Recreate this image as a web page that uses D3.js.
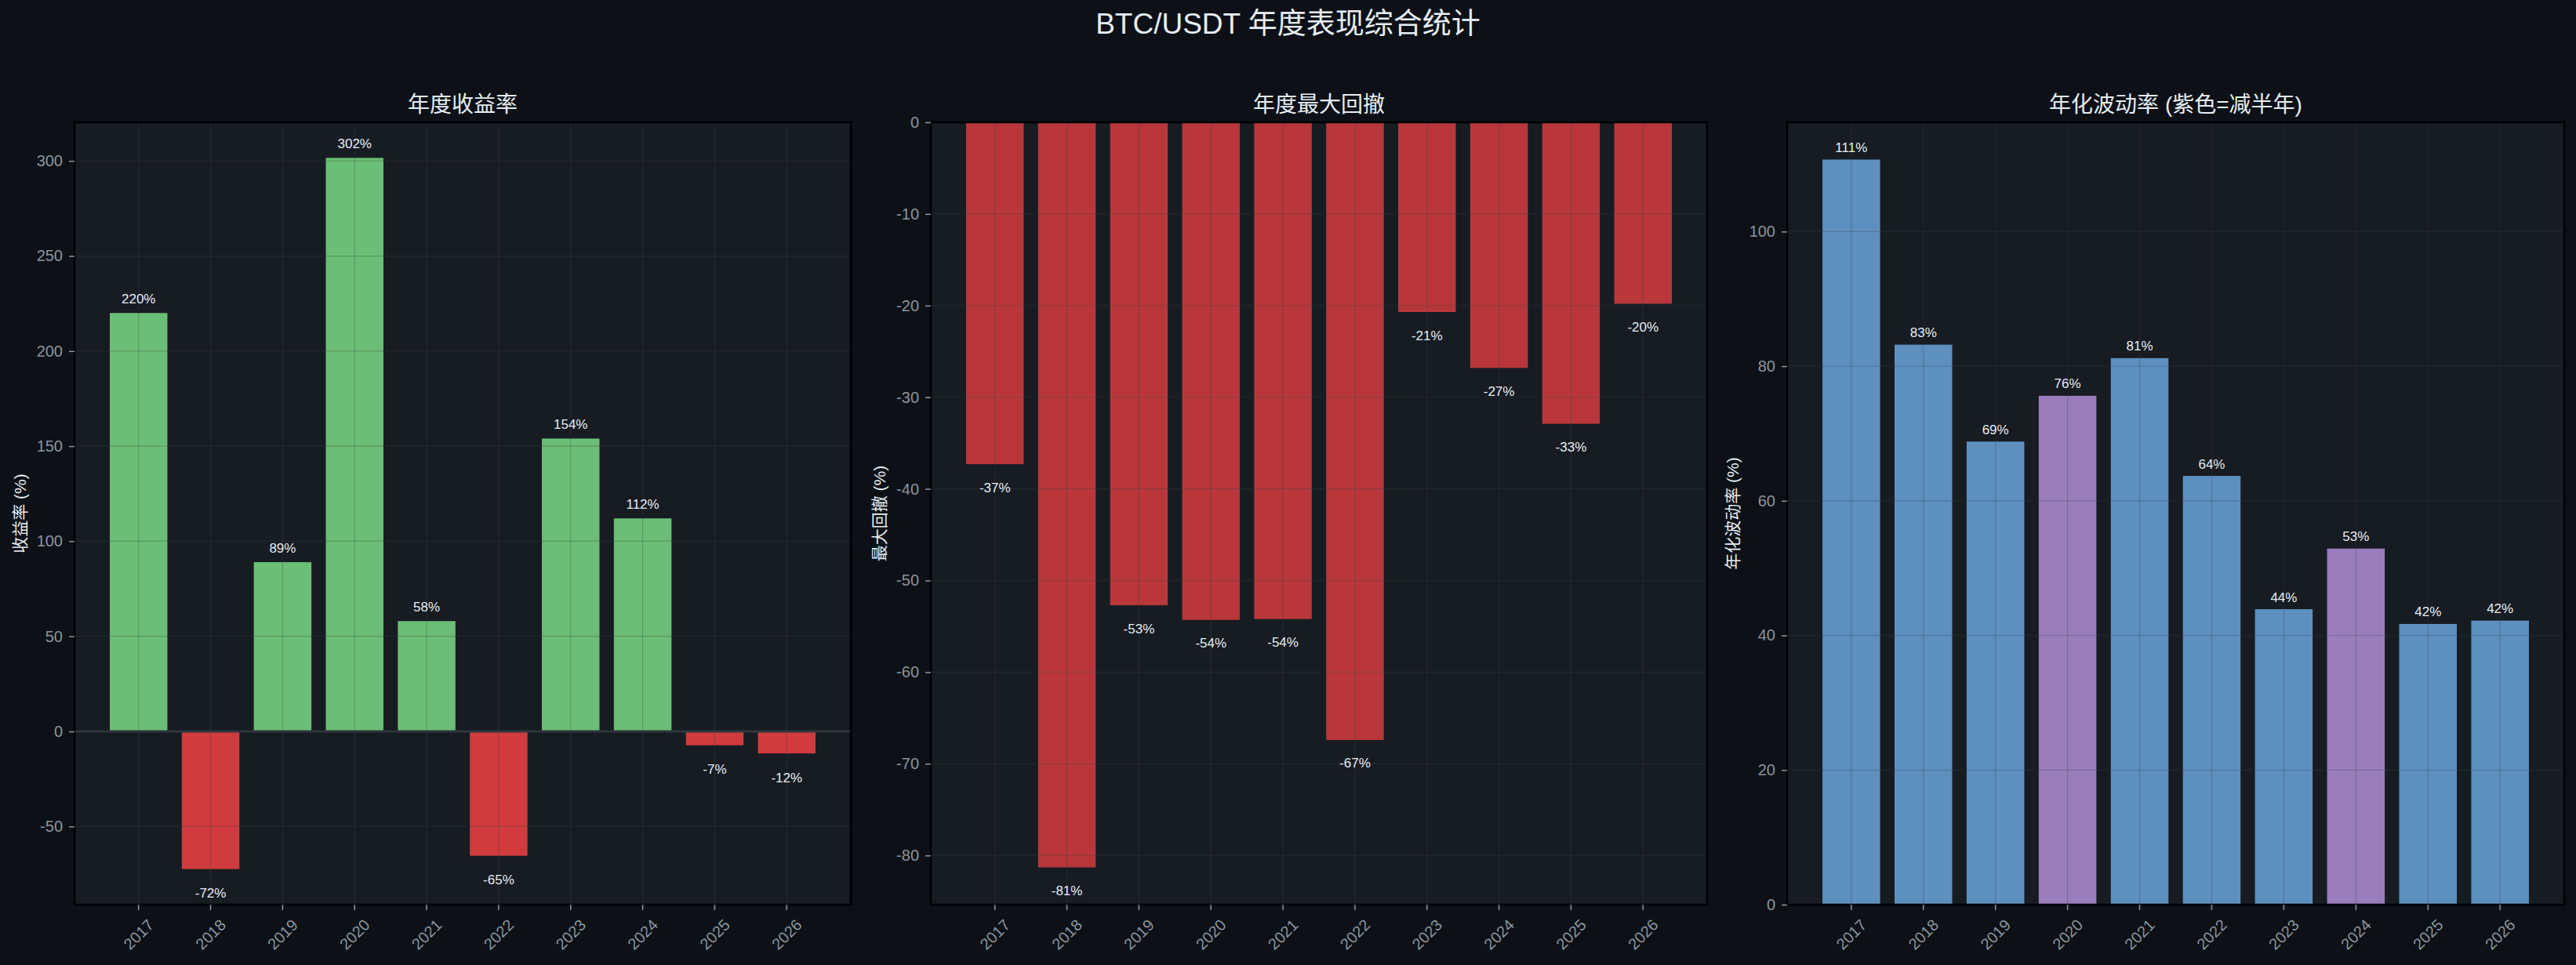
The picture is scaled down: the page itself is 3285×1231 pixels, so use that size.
<!DOCTYPE html>
<html><head><meta charset="utf-8">
<script src="https://cdn.jsdelivr.net/npm/d3@7/dist/d3.min.js"></script>
<style>
html,body{margin:0;padding:0;background:#0d1117;}
svg{display:block;}
text{font-family:"Liberation Sans","Noto Sans CJK SC",sans-serif;}
</style></head>
<body>
<svg id="chart" width="3285" height="1231"></svg>
<script>
const years = ["2017","2018","2019","2020","2021","2022","2023","2024","2025","2026"];
const annualReturn = [220, -72.4, 89, 301.6, 58, -65.4, 154, 112, -7.3, -11.6];
const maxDrawdown = [-37.3, -81.3, -52.7, -54.3, -54.2, -67.4, -20.7, -26.8, -32.9, -19.8];
const volatility = [110.7, 83.2, 68.8, 75.6, 81.2, 63.7, 43.9, 52.9, 41.7, 42.2];
const halvingYears = ["2020","2024"];
const returnTicks = [-50, 0, 50, 100, 150, 200, 250, 300];
const drawdownTicks = [0, -10, -20, -30, -40, -50, -60, -70, -80];
const volTicks = [0, 20, 40, 60, 80, 100];
const mainTitle = "BTC/USDT 年度表现综合统计";
const titles = ["年度收益率", "年度最大回撤", "年化波动率 (紫色=减半年)"];
const yLabels = ["收益率 (%)", "最大回撤 (%)", "年化波动率 (%)"];

const svg = d3.select("#chart");
svg.append("rect").attr("width",3285).attr("height",1231).attr("fill","#0d1117");
svg.append("text").attr("x",1642.5).attr("y",30).attr("text-anchor","middle")
  .attr("dominant-baseline","central").attr("font-size",37).attr("fill","#e6edf3").text(mainTitle);

const plotTop = 156, plotBottom = 1154;
const panels = [
  {left:95, right:1085, values:annualReturn, ticks:returnTicks, title:titles[0], ylabel:yLabels[0], ylabX:25,
   color:v=> v>=0 ? "#6abe75" : "#d03b3e", posOff:18, negOff:31, zero:true},
  {left:1187, right:2177, values:maxDrawdown, ticks:drawdownTicks, title:titles[1], ylabel:yLabels[1], ylabX:1121,
   color:v=>"#b9373a", posOff:18, negOff:30, zero:false},
  {left:2279, right:3270, values:volatility, ticks:volTicks, title:titles[2], ylabel:yLabels[2], ylabX:2209,
   color:(v,i)=> halvingYears.includes(years[i]) ? "#9a7dbb" : "#5d8fbf", posOff:15, negOff:30, zero:false}
];

function paddedDomain(vals){
  let lo = Math.min(0, d3.min(vals)), hi = Math.max(0, d3.max(vals));
  const m = (hi - lo) * 0.05;
  const dlo = lo < 0 ? lo - m : 0;
  const dhi = hi > 0 ? hi + m : 0;
  return [dlo, dhi];
}

panels.forEach(p => {
  const g = svg.append("g");
  const x = d3.scaleBand().domain(years).range([p.left, p.right]).paddingInner(0.2).paddingOuter(0.49);
  const y = d3.scaleLinear().domain(paddedDomain(p.values)).range([plotBottom, plotTop]);
  const bw = x.bandwidth();
  const cx = d => x(d) + bw/2;

  g.append("rect").attr("x",p.left).attr("y",plotTop).attr("width",p.right-p.left).attr("height",plotBottom-plotTop).attr("fill","#171b22");

  // bars
  g.selectAll("rect.bar").data(p.values).join("rect").attr("class","bar")
    .attr("x",(d,i)=>x(years[i])).attr("width",bw)
    .attr("y",d=>y(Math.max(0,d))).attr("height",d=>Math.abs(y(d)-y(0)))
    .attr("fill",(d,i)=>p.color(d,i));

  // grid on top
  const grid = g.append("g").attr("stroke","#3a414b").attr("stroke-opacity",0.3).attr("stroke-width",1.2);
  years.forEach(yr => grid.append("line").attr("x1",cx(yr)).attr("x2",cx(yr)).attr("y1",plotTop).attr("y2",plotBottom));
  p.ticks.forEach(t => grid.append("line").attr("x1",p.left).attr("x2",p.right).attr("y1",y(t)).attr("y2",y(t)));

  if (p.zero) {
    g.append("line").attr("x1",p.left).attr("x2",p.right).attr("y1",y(0)).attr("y2",y(0))
      .attr("stroke","#30363d").attr("stroke-width",3);
  }

  // value labels
  g.selectAll("text.val").data(p.values).join("text").attr("class","val")
    .attr("x",(d,i)=>cx(years[i]))
    .attr("y",d=> d>=0 ? y(d)-p.posOff : y(d)+p.negOff)
    .attr("text-anchor","middle").attr("dominant-baseline","central")
    .attr("font-size",17).attr("fill","#e6edf3")
    .text(d=>Math.round(d)+"%");

  // spines
  g.append("rect").attr("x",p.left).attr("y",plotTop).attr("width",p.right-p.left).attr("height",plotBottom-plotTop)
    .attr("fill","none").attr("stroke","#000").attr("stroke-width",2.5);

  // y axis
  const ya = g.append("g").attr("transform",`translate(${p.left},0)`)
    .call(d3.axisLeft(y).tickValues(p.ticks).tickSize(7).tickPadding(8).tickFormat(d3.format("d")));
  ya.select(".domain").remove();
  ya.selectAll("line").attr("stroke","#8b949e").attr("stroke-width",1.5);
  ya.selectAll("text").attr("fill","#8b949e").attr("font-size",20)
    .attr("font-family","Liberation Sans, sans-serif");
  ya.selectAll("text").text(d=> d<0 ? "-"+Math.abs(d) : d);

  // x axis
  const xa = g.append("g").attr("transform",`translate(0,${plotBottom})`)
    .call(d3.axisBottom(x).tickSize(7).tickFormat(""));
  xa.select(".domain").remove();
  xa.selectAll("line").attr("stroke","#8b949e").attr("stroke-width",1.5);
  years.forEach(yr => {
    g.append("text").attr("transform",`translate(${cx(yr)},${plotBottom+38}) rotate(-45)`)
      .attr("text-anchor","middle").attr("dominant-baseline","central")
      .attr("font-size",20).attr("fill","#8b949e").text(yr);
  });

  // title
  g.append("text").attr("x",(p.left+p.right)/2).attr("y",133).attr("text-anchor","middle")
    .attr("dominant-baseline","central").attr("font-size",28).attr("fill","#e6edf3").text(p.title);
  // y label
  g.append("text").attr("transform",`translate(${p.ylabX},${(plotTop+plotBottom)/2}) rotate(-90)`)
    .attr("text-anchor","middle").attr("dominant-baseline","central")
    .attr("font-size",21).attr("fill","#e6edf3").text(p.ylabel);
});
</script>
</body></html>
